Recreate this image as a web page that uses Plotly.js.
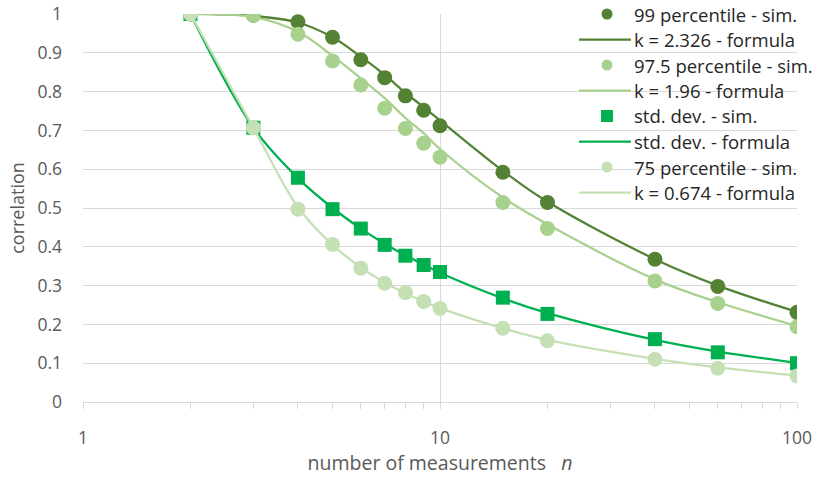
<!DOCTYPE html>
<html>
<head>
<meta charset="utf-8">
<script src="https://cdn.plot.ly/plotly-3.0.1.min.js"></script>
<style>
  html, body { margin: 0; padding: 0; background: #ffffff; }
  #chart { width: 820px; height: 481px; }
</style>
</head>
<body>
<div id="chart"></div>
<script>
// Number of measurements n (log axis)
const nVals = [2, 3, 4, 5, 6, 7, 8, 9, 10, 15, 20, 40, 60, 100];

// Simulated correlation thresholds and the matching formula curves
const p99Sim      = [1.000, 0.997, 0.980, 0.940, 0.882, 0.836, 0.789, 0.752, 0.712, 0.592, 0.514, 0.368, 0.298, 0.231];
const p99Formula  = [1.000, 0.995, 0.978, 0.940, 0.890, 0.843, 0.797, 0.760, 0.726, 0.596, 0.516, 0.368, 0.300, 0.232];
const p975Sim     = [1.000, 0.997, 0.948, 0.879, 0.817, 0.757, 0.705, 0.667, 0.631, 0.514, 0.447, 0.312, 0.254, 0.194];
const p975Formula = [1.000, 0.992, 0.954, 0.892, 0.834, 0.783, 0.732, 0.693, 0.652, 0.527, 0.458, 0.316, 0.257, 0.196];
const stdSim      = [1.000, 0.707, 0.578, 0.497, 0.447, 0.405, 0.377, 0.353, 0.335, 0.269, 0.227, 0.162, 0.128, 0.100];
const stdFormula  = [1.000, 0.707, 0.577, 0.500, 0.447, 0.408, 0.378, 0.354, 0.333, 0.267, 0.229, 0.160, 0.130, 0.101];
const p75Sim      = [1.000, 0.707, 0.497, 0.406, 0.345, 0.306, 0.282, 0.259, 0.241, 0.190, 0.158, 0.110, 0.087, 0.067];
const p75Formula  = [1.000, 0.707, 0.502, 0.405, 0.347, 0.308, 0.280, 0.259, 0.242, 0.190, 0.160, 0.111, 0.089, 0.068];

const seriesNames = [
  '99 percentile - sim.', 'k = 2.326 - formula',
  '97.5 percentile - sim.', 'k = 1.96 - formula',
  'std. dev. - sim.', 'std. dev. - formula',
  '75 percentile - sim.', 'k = 0.674 - formula'
];

const darkGreen   = '#548235';
const midGreen    = '#a9d18e';
const brightGreen = '#00b050';
const paleGreen   = '#c5e0b4';

function simTrace(y, name, color, symbol, size) {
  return {
    x: nVals, y: y, name: name, type: 'scatter', mode: 'markers',
    marker: { color: color, symbol: symbol, size: size, line: { width: 0 } },
    hoverinfo: 'x+y+name'
  };
}
function formulaTrace(y, name, color) {
  return {
    x: nVals, y: y, name: name, type: 'scatter', mode: 'lines',
    line: { color: color, width: 2.25, shape: 'spline', smoothing: 1 },
    hoverinfo: 'x+y+name'
  };
}

const data = [
  simTrace(p99Sim, seriesNames[0], darkGreen, 'circle', 15),
  formulaTrace(p99Formula, seriesNames[1], darkGreen),
  simTrace(p975Sim, seriesNames[2], midGreen, 'circle', 15),
  formulaTrace(p975Formula, seriesNames[3], midGreen),
  simTrace(stdSim, seriesNames[4], brightGreen, 'square', 14),
  formulaTrace(stdFormula, seriesNames[5], brightGreen),
  simTrace(p75Sim, seriesNames[6], paleGreen, 'circle', 15),
  formulaTrace(p75Formula, seriesNames[7], paleGreen)
];

// Plot box in pixels (used to place the key in paper coordinates)
const W = 820, H = 481;
const M = { l: 83, r: 23, t: 14, b: 79 };
const plotW = W - M.l - M.r, plotH = H - M.t - M.b;
const px2x = px => (px - M.l) / plotW;
const py2y = py => (H - M.b - py) / plotH;

const fontFamily = '"Open Sans", "Noto Sans", sans-serif';

// Key: one row per trace, symbol then label, drawn over the plot area
const keyTop = 14, keyStep = 25.5, keySymX = 607, keyLineX0 = 579, keyLineX1 = 631, keyTextX = 633;
const keyShapes = [];
const keyLabels = [];
data.forEach((tr, i) => {
  const yc = py2y(keyTop + keyStep * i);
  if (tr.mode === 'markers') {
    const half = tr.marker.symbol === 'square' ? 6 : 5.5;
    keyShapes.push({
      type: tr.marker.symbol === 'square' ? 'rect' : 'circle',
      xref: 'paper', yref: 'paper', xsizemode: 'pixel', ysizemode: 'pixel',
      xanchor: px2x(keySymX), yanchor: yc,
      x0: -half, x1: half, y0: -half, y1: half,
      fillcolor: tr.marker.color, line: { width: 0 }, layer: 'above'
    });
  } else {
    keyShapes.push({
      type: 'line', xref: 'paper', yref: 'paper',
      x0: px2x(keyLineX0), x1: px2x(keyLineX1), y0: yc, y1: yc,
      line: { color: tr.line.color, width: tr.line.width }, layer: 'above'
    });
  }
  keyLabels.push({
    xref: 'paper', yref: 'paper', x: px2x(keyTextX), y: yc,
    xanchor: 'left', yanchor: 'middle', showarrow: false, borderpad: 0,
    text: tr.name, font: { family: fontFamily, size: 18.5, color: '#262626' }
  });
});

const layout = {
  width: W, height: H,
  margin: M,
  paper_bgcolor: '#ffffff', plot_bgcolor: '#ffffff',
  font: { family: fontFamily, size: 17.5, color: '#595959' },
  showlegend: false,
  shapes: keyShapes,
  annotations: keyLabels,
  xaxis: {
    type: 'log', range: [0, 2],
    tickvals: [1, 10, 100], ticktext: ['1', '10', '100'],
    showgrid: true, gridcolor: '#d9d9d9', gridwidth: 1,
    showline: true, linecolor: '#d9d9d9', linewidth: 1,
    ticks: 'outside', ticklen: 6, tickcolor: '#d9d9d9',
    ticklabelstandoff: 14,
    minor: { ticks: 'outside', ticklen: 6, tickcolor: '#d9d9d9', dtick: 'D1', showgrid: false },
    zeroline: false,
    tickfont: { family: fontFamily, size: 17.5, color: '#595959' },
    title: {
      text: 'number of measurements&nbsp;&nbsp;&nbsp;<i>n</i>',
      font: { family: fontFamily, size: 19.5, color: '#595959' }, standoff: 7
    }
  },
  yaxis: {
    range: [0, 1], dtick: 0.1, tick0: 0,
    showgrid: true, gridcolor: '#d9d9d9', gridwidth: 1,
    showline: false, zeroline: false,
    ticks: '', ticklabelstandoff: 20,
    tickfont: { family: fontFamily, size: 17.5, color: '#595959' },
    title: { text: 'correlation', font: { family: fontFamily, size: 18, color: '#595959' }, standoff: 8 }
  }
};

Plotly.newPlot('chart', data, layout, { displayModeBar: false, staticPlot: true });
</script>
</body>
</html>
